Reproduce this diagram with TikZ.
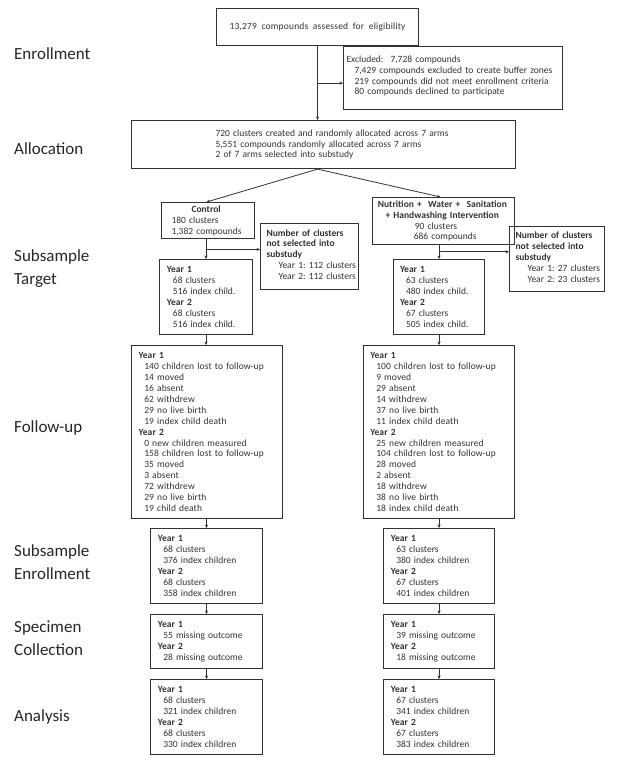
\documentclass[tikz,border=0pt]{standalone}
\usepackage{fontspec}
\setmainfont{Carlito}
\usetikzlibrary{arrows.meta,calc}
\definecolor{ink}{RGB}{50,50,50}
\newcommand\lmarg[1]{\leftskip=#1pt\relax}
\newcommand\ind[1]{\hspace*{#1pt}}
\newcommand\wide[1]{\addfontfeature{LetterSpace=#1}}
\frenchspacing
\begin{document}
\begin{tikzpicture}[x=1pt,y=-1pt,
  box/.style={draw=ink, line width=1.1pt, text=ink, anchor=north west, inner xsep=0pt, inner ysep=0pt, align=left, font=\fontsize{9.5}{10.9}\selectfont},
  cbox/.style={box, align=center},
  arr/.style={draw=ink, line width=0.8pt, -{Stealth[length=3.5pt,width=3.2pt]}},
  lab/.style={anchor=west, align=left, text=black!85, font=\fontsize{17}{22.7}\selectfont, inner sep=0pt}]
\useasboundingbox (0,0) rectangle (617,772);
% stage labels
\node[lab] (l1) at (14,53.3) {Enrollment};
\node[lab] (l2) at (14,148.3) {Allocation};
\node[lab] (l3) at (14,268.7) {Subsample\\Target};
\node[lab] (l4) at (14,428) {Follow-up};
\node[lab] (l5) at (14,562) {Subsample\\Enrollment};
\node[lab] (l6) at (14,638) {Specimen\\Collection};
\node[lab] (l7) at (14,717) {Analysis};
% boxes
\node[cbox, text width=202pt, minimum height=37pt] (top) at (216,8) {\wide{2}13,279\hspace{1.5pt} compounds\hspace{1.5pt} assessed\hspace{1.5pt} for\hspace{1.5pt} eligibility};
\node[box, text width=219pt, minimum height=63pt] (excl) at (343,46) {\lmarg{3}Excluded:\hspace{7pt}7,728 compounds\\\ind{8}7,429 compounds excluded to create buffer zones\\\ind{8}219 compounds did not meet enrollment criteria\\\ind{8}80 compounds declined to participate\par\vspace{4pt}};
\node[box, text width=384pt, minimum height=48pt] (alloc) at (131,120) {\lmarg{84}720 clusters created and randomly allocated across 7 arms\\5,551 compounds randomly allocated across 7 arms\\2 of 7 arms selected into substudy\par};
\node[box, text width=93pt, minimum height=36pt] (ctrl) at (161,202) {\lmarg{10}\ind{20}\textbf{Control}\\180 clusters\\1,382 compounds\par};
\node[box, text width=98pt, minimum height=66pt] (ns1) at (260,223) {\lmarg{6}\textbf{Number of clusters}\\\textbf{not selected into}\\\textbf{substudy}\\\ind{12}Year 1: 112 clusters\\\ind{12}Year 2: 112 clusters\par\vspace{4pt}};
\node[box, text width=93pt, minimum height=75pt] (cy1) at (159,259) {\lmarg{7.4}\textbf{Year 1}\\\ind{6}68 clusters\\\ind{6}516 index child.\\\textbf{Year 2}\\\ind{6}68 clusters\\\ind{6}516 index child.\par};
\node[box, text width=142pt, minimum height=47pt] (int) at (372,197) {\lmarg{5.3}\textbf{Nutrition +~ Water +~ Sanitation}\\\ind{7.7}\textbf{+ Handwashing Intervention}\\\ind{37}90 clusters\\\ind{36}686 compounds\par};
\node[box, text width=95pt, minimum height=65pt] (ns2) at (509,226) {\lmarg{6}\textbf{Number of clusters}\\\textbf{not selected into}\\\textbf{substudy}\\\ind{12}Year 1: 27 clusters\\\ind{12}Year 2: 23 clusters\par\vspace{4pt}};
\node[box, text width=91pt, minimum height=75pt] (cy2) at (393,259) {\lmarg{6.5}\textbf{Year 1}\\\ind{6}63 clusters\\\ind{6}480 index child.\\\textbf{Year 2}\\\ind{6}67 clusters\\\ind{6}505 index child.\par};
\node[box, text width=151pt, minimum height=173pt] (fu1) at (131,345) {\wide{1.3}\lmarg{7}\textbf{Year 1}\\\ind{5.7}140 children lost to follow-up\\\ind{5.7}14 moved\\\ind{5.7}16 absent\\\ind{5.7}62 withdrew\\\ind{5.7}29 no live birth\\\ind{5.7}19 index child death\\\textbf{Year 2}\\\ind{5.7}0 new children measured\\\ind{5.7}158 children lost to follow-up\\\ind{5.7}35 moved\\\ind{5.7}3 absent\\\ind{5.7}72 withdrew\\\ind{5.7}29 no live birth\\\ind{5.7}19 child death\par};
\node[box, text width=151pt, minimum height=173pt] (fu2) at (363,345) {\wide{1.3}\lmarg{6.7}\textbf{Year 1}\\\ind{6}100 children lost to follow-up\\\ind{6}9 moved\\\ind{6}29 absent\\\ind{6}14 withdrew\\\ind{6}37 no live birth\\\ind{6}11 index child death\\\textbf{Year 2}\\\ind{6}25 new children measured\\\ind{6}104 children lost to follow-up\\\ind{6}28 moved\\\ind{6}2 absent\\\ind{6}18 withdrew\\\ind{6}38 no live birth\\\ind{6}18 index child death\par};
\node[box, text width=112pt, minimum height=75pt] (se1) at (150,528) {\lmarg{7.3}\textbf{Year 1}\\\ind{5.5}68 clusters\\\ind{5.5}376 index children\\\textbf{Year 2}\\\ind{5.5}68 clusters\\\ind{5.5}358 index children\par};
\node[box, text width=111pt, minimum height=75pt] (se2) at (383,528) {\lmarg{7.3}\textbf{Year 1}\\\ind{5.5}63 clusters\\\ind{5.5}380 index children\\\textbf{Year 2}\\\ind{5.5}67 clusters\\\ind{5.5}401 index children\par};
\node[box, text width=112pt, minimum height=54pt] (sc1) at (150,614) {\lmarg{7.3}\textbf{Year 1}\\\ind{5.5}55 missing outcome\\\textbf{Year 2}\\\ind{5.5}28 missing outcome\par};
\node[box, text width=111pt, minimum height=54pt] (sc2) at (383,614) {\lmarg{7.3}\textbf{Year 1}\\\ind{5.5}39 missing outcome\\\textbf{Year 2}\\\ind{5.5}18 missing outcome\par};
\node[box, text width=112pt, minimum height=75pt] (an1) at (150,679) {\lmarg{7.3}\textbf{Year 1}\\\ind{5.5}68 clusters\\\ind{5.5}321 index children\\\textbf{Year 2}\\\ind{5.5}68 clusters\\\ind{5.5}330 index children\par};
\node[box, text width=111pt, minimum height=75pt] (an2) at (383,679) {\lmarg{7.3}\textbf{Year 1}\\\ind{5.5}67 clusters\\\ind{5.5}341 index children\\\textbf{Year 2}\\\ind{5.5}67 clusters\\\ind{5.5}383 index children\par};
% connectors
\coordinate (j1) at ($(top.south)+(0,37)$);
\draw[arr] (top.south) -- (top.south |- alloc.north);
\draw[arr] (j1) -- (j1 -| excl.west);
\coordinate (a0) at (top.south |- alloc.south);
\draw[arr] (a0) -- ($(ctrl.north)+(-1.5,0)$);
\draw[arr] (a0) -- ($(int.north)+(-3,0)$);
\draw[arr] (cy1.north |- ctrl.south) -- (cy1.north);
\coordinate (j2) at ($(cy1.north |- ctrl.south)+(0,10.3)$);
\draw[arr] (j2) -- (j2 -| ns1.west);
\draw[arr] (cy2.north |- int.south) -- (cy2.north);
\coordinate (j3) at ($(cy2.north |- int.south)+(0,6.7)$);
\draw[arr] (j3) -- (j3 -| ns2.west);
\draw[arr] (cy1.south) -- (cy1.south |- fu1.north);
\draw[arr] (cy2.south) -- (cy2.south |- fu2.north);
\draw[arr] (se1.north |- fu1.south) -- (se1.north);
\draw[arr] (se2.north |- fu2.south) -- (se2.north);
\draw[arr] (se1.south) -- (sc1.north);
\draw[arr] (se2.south) -- (sc2.north);
\draw[arr] (sc1.south) -- (an1.north);
\draw[arr] (sc2.south) -- (an2.north);
\end{tikzpicture}
\end{document}
